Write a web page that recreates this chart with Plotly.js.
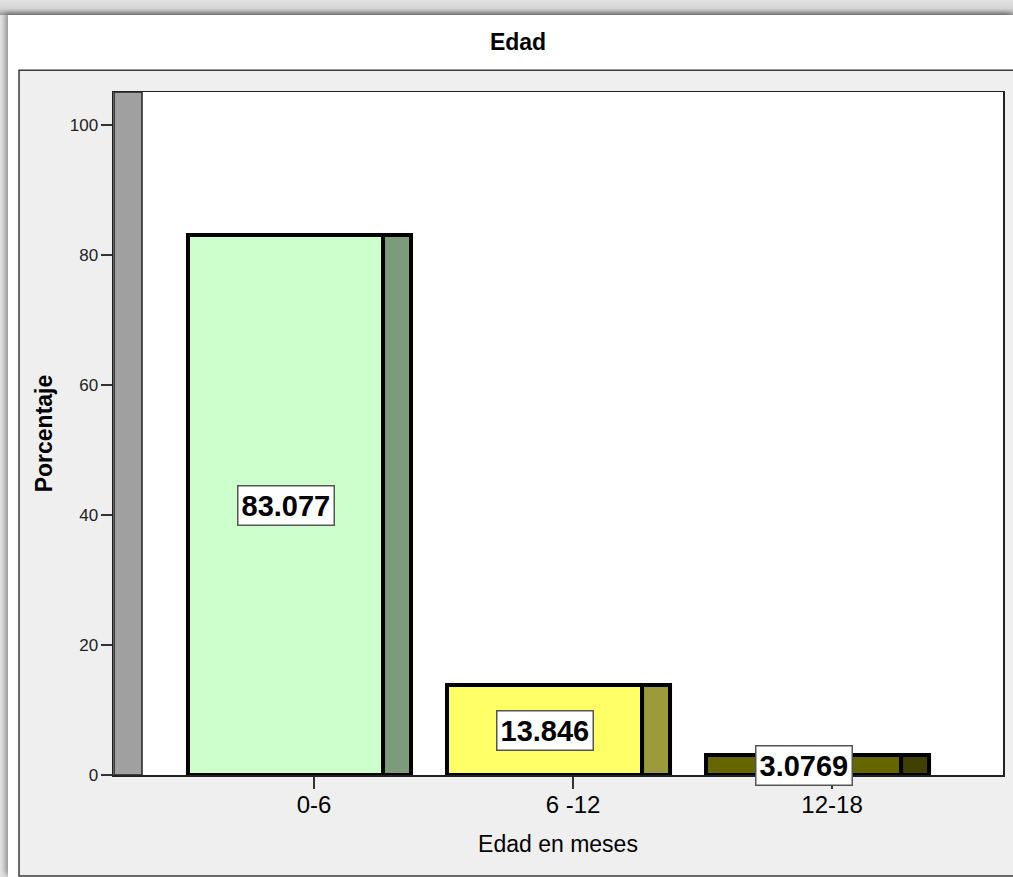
<!DOCTYPE html>
<html>
<head>
<meta charset="utf-8">
<script src="https://cdn.plot.ly/plotly-3.0.1.min.js"></script>
<style>
  html, body { margin: 0; padding: 0; width: 1013px; height: 877px; overflow: hidden;
    background: linear-gradient(to bottom, #e2e2e2 0px, #d4d4d4 9px, #9c9c9c 15px, #e2e2e2 15px); }
  #chart { position: absolute; left: 8px; top: 15px; width: 1005px; height: 862px;
    box-shadow: -3px -2px 5px rgba(0,0,0,0.35); }
</style>
</head>
<body>
<div id="chart"></div>
<script>
// Age groups (months) and share of cases in each group (%)
const categories = ['0-6', '6 -12', '12-18'];
const percentages = [83.077, 13.846, 3.0769];
const valueLabels = ['83.077', '13.846', '3.0769'];
const frontColors = ['#ccffcc', '#ffff66', '#666600'];
const sideColors = ['#7b9b7b', '#9b9b3b', '#404000'];
const yTicks = [0, 20, 40, 60, 80, 100];

const FONT = 'Liberation Sans, Arial, sans-serif';
const idx = categories.map((c, i) => i);

// pseudo-3D bars: a front face plus a narrow side face to its right
const FRONT_OFF = -0.4865, FRONT_W = 0.753;
const SIDE_OFF = FRONT_OFF + FRONT_W, SIDE_W = 0.108;

const front = {
  type: 'bar', x: categories, y: percentages,
  offset: FRONT_OFF, width: FRONT_W,
  marker: { color: frontColors, line: { color: '#000', width: 4 } },
  hoverinfo: 'x+y', showlegend: false
};
const side = {
  type: 'bar', x: categories, y: percentages,
  offset: SIDE_OFF, width: SIDE_W,
  marker: { color: sideColors, line: { color: '#000', width: 4 } },
  hoverinfo: 'skip', showlegend: false
};

const Y_MAX = 105.08;
const X_RANGE = [-0.776, 2.660];

const labelNotes = idx.map(i => ({
  x: i + FRONT_OFF + FRONT_W / 2, y: percentages[i] / 2,
  xref: 'x', yref: 'y', showarrow: false,
  text: '<b>' + valueLabels[i] + '</b>',
  font: { family: FONT, size: 29, color: '#000' },
  bgcolor: '#fff', bordercolor: '#555', borderwidth: 1.5, borderpad: 3
}));

const shapes = [
  // grey chart panel
  { type: 'rect', xref: 'paper', yref: 'paper', x0: -0.1056, x1: 1.03, y0: -0.148, y1: 1.032,
    fillcolor: '#efefef', line: { color: '#3a3a3a', width: 1.5 }, layer: 'below' },
  // white plotting area
  { type: 'rect', xref: 'paper', yref: 'paper', x0: 0, x1: 1, y0: 0, y1: 1,
    fillcolor: '#ffffff', line: { width: 0 }, layer: 'below' },
  // back wall of the 3D frame
  { type: 'rect', xref: 'x', yref: 'y', x0: -0.772, x1: -0.664, y0: 0, y1: Y_MAX,
    fillcolor: '#a0a0a0', line: { color: '#222', width: 1.5 }, layer: 'below' }
];

const layout = {
  width: 1005, height: 862,
  margin: { l: 105, r: 10, t: 77, b: 102 },
  paper_bgcolor: '#ffffff', plot_bgcolor: 'rgba(0,0,0,0)',
  font: { family: FONT, color: '#000' },
  title: { text: '<b>Edad</b>', xref: 'container', yref: 'container', x: 0.5075, y: 0.9687,
    xanchor: 'center', yanchor: 'middle', font: { family: FONT, size: 23, color: '#000' } },
  barmode: 'overlay',
  xaxis: {
    type: 'category', range: X_RANGE, fixedrange: true,
    showline: true, mirror: true, linecolor: '#222', linewidth: 1.5,
    ticks: 'outside', ticklen: 12, tickwidth: 1.5, tickcolor: '#333',
    ticklabelstandoff: -4,
    showgrid: false, zeroline: false,
    tickfont: { family: FONT, size: 24, color: '#000' },
    title: { text: 'Edad en meses', standoff: 18, font: { family: FONT, size: 23, color: '#000' } }
  },
  yaxis: {
    range: [0, Y_MAX], fixedrange: true,
    tickvals: yTicks, ticktext: yTicks.map(String),
    showline: true, mirror: true, linecolor: '#222', linewidth: 1.5,
    ticks: 'outside', ticklen: 11, tickwidth: 1.5, tickcolor: '#333',
    ticklabelstandoff: -1,
    showgrid: false, zeroline: false,
    tickfont: { family: FONT, size: 17, color: '#222' },
    title: { text: '<b>Porcentaje</b>', standoff: 10, font: { family: FONT, size: 23, color: '#000' } }
  },
  shapes: shapes,
  annotations: labelNotes
};

Plotly.newPlot('chart', [front, side], layout, { displayModeBar: false, staticPlot: true });
</script>
</body>
</html>
